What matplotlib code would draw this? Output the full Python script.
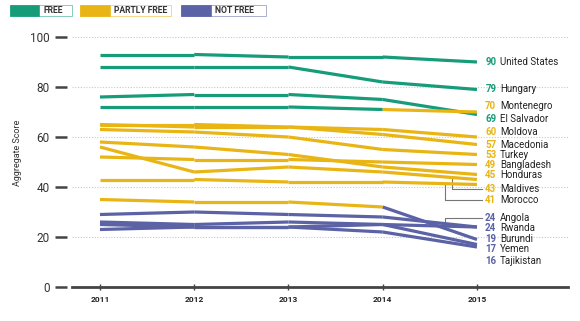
import matplotlib.pyplot as plt
from matplotlib.patches import Rectangle
import numpy as np

plt.rcParams['font.family'] = ['Roboto', 'DejaVu Sans']

years = [2011, 2012, 2013, 2014, 2015]

# aggregate scores per country, 2011-2015
united_states = [93, 93, 92, 92, 90]
hungary = [88, 88, 88, 82, 79]
el_salvador = [76, 77, 77, 75, 69]
montenegro = [72, 72, 72, 71, 70]
moldova = [65, 65, 64, 63, 60]
macedonia = [65, 64, 64, 61, 57]
turkey = [63, 62, 60, 55, 53]
bangladesh = [52, 51, 51, 50, 49]
honduras = [58, 56, 53, 48, 45]
maldives = [56, 46, 48, 46, 43]
morocco = [43, 43, 42, 42, 41]
burundi = [35, 34, 34, 32, 19]
angola = [29, 30, 29, 28, 24]
rwanda = [23, 24, 24, 25, 24]
yemen = [26, 25, 26, 25, 17]
tajikistan = [25, 24, 24, 22, 16]

countries = ["United States", "Hungary", "Montenegro", "El Salvador", "Moldova",
             "Macedonia", "Turkey", "Bangladesh", "Honduras", "Maldives", "Morocco",
             "Angola", "Rwanda", "Burundi", "Yemen", "Tajikistan"]
scores = [united_states, hungary, montenegro, el_salvador, moldova, macedonia,
          turkey, bangladesh, honduras, maldives, morocco, angola, rwanda,
          burundi, yemen, tajikistan]
# status per year: F = free, P = partly free, N = not free
status = ["FFFFF", "FFFFF", "FFFFP", "FFFFF", "PPPPP", "PPPPP", "PPPPP", "PPPPP",
          "PPPPP", "PPPPP", "PPPPP", "NNNNN", "NNNNN", "PPPPN", "NNNNN", "NNNNN"]

colors = {"F": "#179c7a", "P": "#e9b515", "N": "#5b62a5"}
legend_labels = [("F", "FREE"), ("P", "PARTLY FREE"), ("N", "NOT FREE")]

# where the right-hand labels sit (data units), and connector x for pushed labels
label_y = [90.1, 79.3, 72.4, 67.3, 62, 57, 52.8, 48.7, 44.6, 39.1, 34.7,
           27.7, 23.5, 19.2, 15.2, 10.4]
connector_x = {"Maldives": 2014.735, "Morocco": 2014.66, "Angola": 2014.66}

W, H = 580, 321
fig = plt.figure(figsize=(W / 100, H / 100), dpi=100)
ax = fig.add_axes([72 / W, 1 - 287 / H, 496 / W, 250 / H])

ax.set_xlim(2010.703, 2015.966)
ax.set_ylim(0, 100)

order = ["F", "P", "N"]
for st in order:
    for name, vals, stat in zip(countries, scores, status):
        for i in range(len(years) - 1):
            if stat[i + 1] != st:
                continue
            ax.plot(years[i:i + 2], vals[i:i + 2], color=colors[st], lw=2.3,
                    solid_capstyle='butt', solid_joinstyle='round', zorder=3)

# labels on the right
for name, vals, stat, ly in zip(countries, scores, status, label_y):
    c = colors[stat[-1]]
    ax.text(2015.205, ly, str(vals[-1]), color=c, fontsize=7, fontweight='bold',
            ha='right', va='center', zorder=5)
    ax.text(2015.245, ly, name, color='#222222', fontsize=7, ha='left',
            va='center', zorder=5)
    if name in connector_x:
        xc = connector_x[name]
        yl = np.interp(xc, years, vals)
        ax.plot([xc, xc, 2015.05], [yl, ly, ly], color='#777777', lw=0.8,
                zorder=2)

# grid and axes
ax.set_yticks([0, 20, 40, 60, 80, 100])
ax.set_yticklabels(["0", "20", "40", "60", "80", "100"])
ax.grid(axis='y', ls=(0, (1, 1.5)), color='#c8c8c8', lw=0.8, zorder=0)
ax.tick_params(axis='y', length=0, pad=16, labelsize=8.5, labelcolor='#333333')
for v in [0, 20, 40, 60, 80, 100]:
    ax.plot([-0.0343, -0.0101], [v, v], transform=ax.get_yaxis_transform(),
            color='#444444', lw=1.8, clip_on=False, solid_capstyle='butt')

ax.set_xticks(years)
ax.set_xticklabels([str(y) for y in years], fontweight='bold')
ax.tick_params(axis='x', direction='inout', length=5, width=1, color='#444444',
               labelsize=6, labelcolor='#222222', pad=4)
for s in ['top', 'right', 'left']:
    ax.spines[s].set_visible(False)
ax.spines['bottom'].set_color('#444444')
ax.spines['bottom'].set_linewidth(2)
ax.spines['bottom'].set_zorder(4)

fig.text(17 / W, 1 - 153 / H, "Aggregate Score", rotation=90, fontsize=6.5,
         color='#333333', ha='center', va='center')

# legend boxes at the top
legend_px = [(10, 39, 72), (80, 110, 171), (181, 211, 266)]
for (st, txt), (x0, x1, x2) in zip(legend_labels, legend_px):
    y0, y1 = 4.5, 16
    fig.add_artist(Rectangle((x0 / W, 1 - y1 / H), (x1 - x0) / W, (y1 - y0) / H,
                             transform=fig.transFigure, facecolor=colors[st],
                             edgecolor=colors[st], lw=0.6))
    fig.add_artist(Rectangle((x1 / W, 1 - y1 / H), (x2 - x1) / W, (y1 - y0) / H,
                             transform=fig.transFigure, facecolor='white',
                             edgecolor=colors[st], lw=0.6, alpha=0.6))
    fig.text((x1 + 4) / W, 1 - (y0 + y1) / 2 / H, txt, fontsize=6.2,
             fontweight='bold', color='#333333', ha='left', va='center')

fig.savefig("out.png", dpi=100)
